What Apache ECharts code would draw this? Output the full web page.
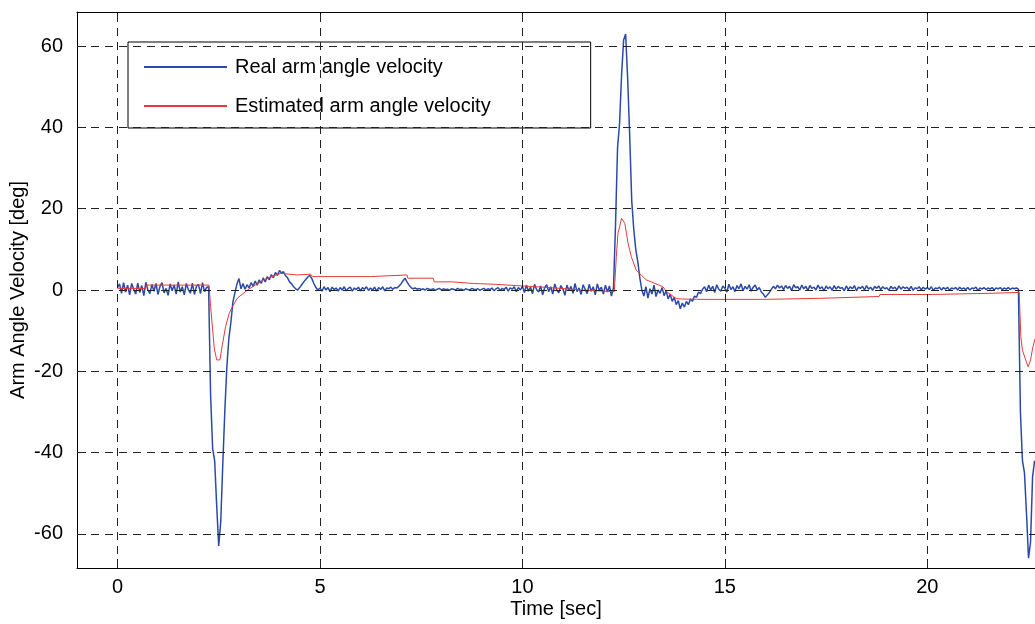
<!DOCTYPE html>
<html><head><meta charset="utf-8">
<script src="https://cdn.jsdelivr.net/npm/echarts@6/dist/echarts.min.js"></script>
<style>html,body{margin:0;padding:0;background:#fff}#c{width:1035px;height:624px}</style>
</head><body><div id="c"></div>
<script>
const seriesNames = ['Real arm angle velocity', 'Estimated arm angle velocity'];
const xTicks = [0, 5, 10, 15, 20];
const yTicks = [-60, -40, -20, 0, 20, 40, 60];
const xRange = [-1, 22.66];
const yRange = [-68.4, 68.4];

// Real arm angle velocity, sampled every 0.05 s starting at t = 0 (one row per second)
const realStep = 0.05;
const realValues = [
  0.6, 1.5, -0.8, 1.8, -0.5, 1.2, -1.2, 1.6, 0.2, -1.0, 1.7, -0.6, 1.1, -1.4, 1.9, 0.0, -0.9, 1.4, -0.3, 1.6,
  -1.1, 0.9, 1.8, -0.7, 0.4, -1.3, 1.5, -0.2, 1.2, -1.0, 2.0, -0.5, 0.8, -1.2, 1.6, 0.1, -0.8, 1.7, -1.1, 0.9,
  1.4, -0.9, 1.8, -0.4, 0.6, 0.8, -26, -39, -42, -53, -63, -57, -43, -30, -19, -12, -8, -3, -0.7, 1.5,
  2.8, 0.3, 1.6, 0.2, 1.3, 0.5, 1.8, 0.9, 2.2, 1.2, 2.5, 1.6, 3.0, 2.0, 3.3, 2.5, 3.8, 3.0, 4.3, 3.6,
  4.8, 4.2, 4.5, 3.5, 3.0, 2.0, 1.5, 0.8, 0.3, 0.0, 0.6, 1.3, 2.0, 2.6, 3.2, 3.6, 2.8, 1.6, 0.6, 0.0,
  0.5, -0.3, 0.8, 0.0, 0.6, -0.4, 0.7, 0.1, 0.5, -0.3, 0.6, 0.0, 0.8, -0.2, 0.4, 0.7, -0.3, 0.5, 0.1, 0.7,
  -0.2, 0.6, 0.2, 0.8, -0.1, 0.5, 0.0, 0.7, -0.3, 0.6, 0.1, 0.8, -0.2, 0.5, 0.3, 0.7, 0.2, 0.6, 0.5, 0.9,
  1.5, 2.2, 2.9, 2.0, 1.2, 0.6, 0.3, 0.5, 0.2, 0.4, 0.1, 0.3, 0.0, 0.4, 0.2, 0.1, 0.3, -0.1, 0.2, 0.4,
  0.0, 0.3, 0.1, 0.2, -0.1, 0.3, 0.2, 0.0, 0.4, 0.1, 0.2, -0.1, 0.3, 0.1, 0.0, 0.4, 0.2, 0.1, 0.3, -0.1,
  0.2, 0.4, 0.0, 0.3, 0.1, 0.5, -0.2, 0.3, 0.6, -0.1, 0.4, 0.1, 0.7, -0.3, 0.5, 0.2, 0.8, -0.4, 0.6, 0.0,
  0.9, -0.6, 1.2, -0.3, 0.7, -0.9, 1.4, 0.1, -0.5, 1.0, -1.2, 0.6, 1.3, -0.4, 0.8, -1.0, 1.5, 0.0, -0.7, 1.1,
  0.3, -1.3, 1.2, -0.2, 0.9, -0.8, 1.6, -0.4, 0.5, -1.1, 1.3, 0.2, -0.9, 1.4, -0.3, 0.8, -1.2, 1.5, -0.1, 0.7,
  -1.0, 1.2, -0.5, 1.0, -1.5, 0.6, 16, 35, 41, 53, 61.5, 63, 52, 38, 22, 15, 10, 7, 3, 0,
  -1.5, 0.8, -2.0, 0.3, -1.0, 1.2, -1.6, 0.0, -0.8, 0.6, -1.4, -0.2, -2.2, -1.0, -2.8, -1.8, -3.6, -2.6, -4.6, -3.2,
  -4.2, -2.8, -3.6, -2.2, -2.8, -1.5, -1.8, -0.5, -0.9, 0.2, 0.8, -0.4, 1.2, 0.0, 0.9, -0.6, 1.3, 0.2, -0.3, 1.0,
  0.4, -0.5, 1.4, 0.1, 0.8, -0.4, 1.1, 0.3, 1.5, -0.2, 0.9, 0.2, 1.3, -0.3, 0.7, 1.2, 0.0, 0.6, -0.5, -1.0,
  -1.8, -1.2, -0.6, 0.2, 0.9, 0.3, 1.2, 0.5, 1.0, 0.1, 1.1, 0.4, 0.9, -0.2, 1.3, 0.5, 0.8, 0.0, 1.2, 0.3,
  0.9, -0.1, 1.1, 0.4, 0.7, 0.0, 1.2, 0.3, 0.8, -0.2, 1.0, 0.3, 0.8, -0.1, 1.1, 0.2, 0.9, 0.4, 0.6, -0.2,
  1.0, 0.1, 0.8, 0.3, 1.1, -0.2, 0.7, 0.4, 0.9, 0.0, 1.1, 0.2, 0.7, -0.1, 0.9, 0.4, 1.0, 0.1, 0.8, 0.3,
  0.6, -0.1, 0.9, 0.3, 0.7, 0.0, 1.0, 0.2, 0.8, 0.4, 0.7, 0.1, 0.9, -0.1, 0.6, 0.3, 0.8, 0.0, 0.7, 0.2,
  0.6, 0.1, 0.8, -0.1, 0.5, 0.3, 0.7, 0.0, 0.6, 0.2, 0.7, -0.1, 0.5, 0.3, 0.6, 0.0, 0.7, 0.2, 0.5, 0.1,
  0.6, 0.0, 0.5, 0.3, 0.7, -0.1, 0.5, 0.2, 0.6, 0.1, 0.5, 0.2, 0.6, 0.0, 0.5, 0.3, 0.6, 0.1, 0.5, 0.2,
  0.6, 0.1, 0.5, 0.3, 0.5, 0.2, -30, -42, -45, -55, -66, -62, -46, -42
];

// Estimated arm angle velocity: [time, value]
const estimatedPoints = [
  [0, 0.4], [0.70, 0.4], [0.72, 1.2], [2.26, 1.2], [2.30, -4], [2.35, -9.8], [2.39, -14.3], [2.45, -17.2],
  [2.53, -17.2], [2.59, -13.5], [2.67, -9], [2.76, -5.7], [2.84, -4.1], [2.96, -2], [3.21, 0], [3.61, 2.5],
  [4.03, 4.1], [4.44, 3.7], [4.77, 3.9], [4.82, 3.3], [6.25, 3.3], [6.27, 3.7], [7.15, 3.7], [7.17, 2.9],
  [7.80, 2.9], [7.82, 2.0], [8.26, 2.0], [8.28, 1.6], [8.79, 1.6], [8.81, 1.4], [9.33, 1.4], [9.35, 1.1],
  [9.82, 1.1], [9.84, 0.8], [10.35, 0.8], [10.37, 0.4], [10.93, 0.4], [10.95, 0], [11.46, 0], [11.48, -0.4],
  [12.27, -0.4], [12.32, 8.2], [12.36, 13.9], [12.45, 17.6], [12.53, 16.4], [12.61, 11.5], [12.69, 8.2],
  [12.81, 4.9], [13.06, 2.5], [13.47, 0.8], [13.56, -0.4], [13.80, -2.1], [13.90, -2.2], [14.30, -2.3],
  [16.02, -2.3], [16.04, -2.05], [17.34, -2.05], [17.36, -1.6], [18.81, -1.6], [18.83, -1.1], [20.13, -1.1],
  [20.15, -0.8], [21.60, -0.8], [21.62, -0.6], [22.27, -0.6], [22.31, -11.5], [22.35, -14.8], [22.43, -17.2],
  [22.49, -18.9], [22.55, -17.2], [22.61, -13.9], [22.66, -12]
];

const FONT = 'Liberation Sans, Arial, sans-serif';
const FS = 20;
const realData = realValues.map((v, i) => [+(i * realStep).toFixed(2), v]);

const chart = echarts.init(document.getElementById('c'), null, {renderer: 'canvas'});
const gridLine = {color: '#222', width: 1, type: [8, 6]};
chart.setOption({
  animation: false,
  backgroundColor: '#fff',
  textStyle: {fontFamily: FONT},
  grid: {left: 77, top: 12, right: 0, bottom: 56, containLabel: false, outerBoundsMode: 'none'},
  legend: {
    data: seriesNames, left: 128, top: 42, orient: 'vertical',
    backgroundColor: '#fff', borderColor: '#000', borderWidth: 1, borderRadius: 0,
    padding: [15, 100, 12, 15], itemWidth: 83, itemHeight: 14, itemGap: 19,
    itemStyle: {color: 'rgba(0,0,0,0)', borderWidth: 0, opacity: 0},
    textStyle: {fontSize: FS, lineHeight: 20, fontFamily: FONT, color: '#000', padding: [0, 0, 0, 3]},
    selectedMode: false
  },
  xAxis: [{
    type: 'value', min: xRange[0], max: xRange[1], position: 'bottom',
    name: 'Time [sec]', nameLocation: 'middle', nameGap: 31, nameMoveOverlap: false,
    nameTextStyle: {fontSize: FS, color: '#000', fontFamily: FONT},
    axisLine: {show: true, onZero: false, lineStyle: {color: '#000', width: 1}},
    axisTick: {show: true, inside: true, length: 9, customValues: xTicks, lineStyle: {color: '#000'}},
    axisLabel: {show: true, customValues: xTicks, fontSize: FS, color: '#000', margin: 9, fontFamily: FONT},
    splitLine: {show: false}
  }, {
    type: 'value', min: xRange[0], max: xRange[1], position: 'top',
    axisLine: {show: true, onZero: false, lineStyle: {color: '#000', width: 1}},
    axisTick: {show: true, inside: true, length: 9, customValues: xTicks, lineStyle: {color: '#000'}},
    axisLabel: {show: false},
    splitLine: {show: false}
  }],
  yAxis: [{
    type: 'value', min: yRange[0], max: yRange[1],
    name: 'Arm Angle Velocity [deg]', nameLocation: 'middle', nameGap: 49, nameRotate: 90, nameMoveOverlap: false,
    nameTextStyle: {fontSize: FS, color: '#000', fontFamily: FONT},
    axisLine: {show: true, onZero: false, lineStyle: {color: '#000', width: 1}},
    axisTick: {show: true, inside: true, length: 9, customValues: yTicks, lineStyle: {color: '#000'}},
    axisLabel: {show: true, customValues: yTicks, fontSize: FS, color: '#000', margin: 14, fontFamily: FONT},
    splitLine: {show: false}
  }],
  series: [{
    name: 'grid', type: 'line', data: [], silent: true, z: 1,
    markLine: {
      silent: true, symbol: ['none', 'none'], label: {show: false}, animation: false,
      lineStyle: gridLine, emphasis: {disabled: true},
      data: xTicks.map(v => ({xAxis: v})).concat(yTicks.map(v => ({yAxis: v})))
    }
  }, {
    name: seriesNames[0], type: 'line', data: realData, showSymbol: false, symbol: 'none',
    lineStyle: {color: '#2b4aa6', width: 1.5}, itemStyle: {color: '#2b4aa6'}, z: 3, clip: true
  }, {
    name: seriesNames[1], type: 'line', data: estimatedPoints, showSymbol: false, symbol: 'none',
    lineStyle: {color: '#e33b3b', width: 1}, itemStyle: {color: '#e33b3b'}, z: 4, clip: true
  }]
});
</script>
</body></html>
